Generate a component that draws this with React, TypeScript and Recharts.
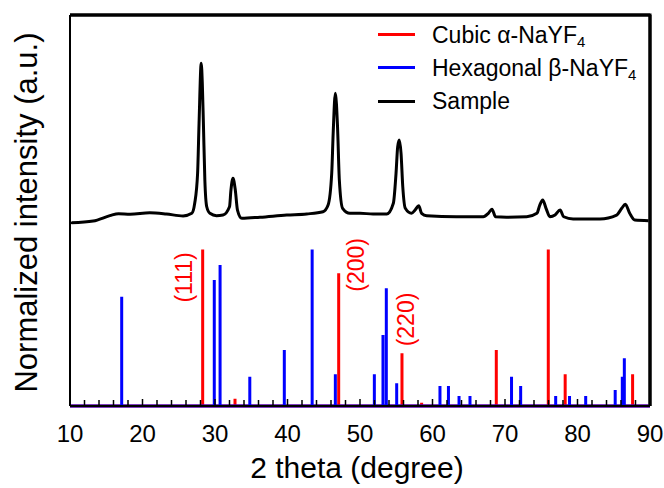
import { ComposedChart, Line, XAxis, YAxis, ReferenceDot } from "recharts";

const FONT = '"Liberation Sans", Arial, sans-serif';

// axis limits
const xDomain = [10, 90];
const yDomain = [0, 250];

// reference patterns (2 theta, relative intensity)
const cubicPos = [28.3, 32.76, 47.06, 55.79, 58.5, 68.8, 75.97, 78.3, 87.6];
const cubicInt = [100, 4.7, 84.9, 33.7, 2.1, 35.8, 100, 20.3, 20.3];

const hexPos = [
  17.13, 29.9, 30.7, 34.8, 39.56, 43.4, 46.6, 51.98, 53.17, 53.63, 55.06, 61.03,
  62.2, 63.66, 65.17, 70.9, 72.16, 76.99, 78.9, 81.13, 85.2, 86.18, 86.46,
];
const hexInt = [
  69.9, 80.6, 90.2, 18.7, 35.8, 100, 20.3, 20.3, 45.4, 75.3, 14.5, 12.8, 12.8,
  6.4, 6.4, 18.7, 12.8, 6.4, 6.4, 6.4, 10.2, 18.7, 30.5,
];

// measured sample pattern (offset above the references)
const sampleX = [
  10.2, 13.2, 15.5, 16.7, 18.3, 21.0, 23.3, 25.6, 26.8, 27.2, 27.6, 27.8, 28.1,
  28.25, 28.4, 28.6, 28.86, 29.3, 30.2, 31.1, 32.0, 32.2, 32.48, 32.8, 33.1,
  33.7, 36.2, 39.9, 42.65, 44.9, 45.6, 46.1, 46.3, 46.6, 46.9, 47.15, 47.6,
  48.6, 50.0, 51.8, 53.7, 54.6, 54.97, 55.2, 55.42, 55.66, 55.9, 56.25, 57.1,
  57.6, 58.1, 58.5, 59.2, 63.3, 67.0, 67.7, 68.2, 68.7, 70.2, 73.0, 74.4, 74.8,
  75.2, 75.66, 76.2, 76.9, 77.6, 78.1, 79.4, 83.1, 85.4, 86.1, 86.6, 87.2, 87.9,
  89.8,
];
const sampleY = [
  117.2, 118.3, 121.7, 123.0, 122.6, 123.6, 122.8, 121.5, 123.2, 129.6, 148.8,
  180.8, 219.1, 206.3, 180.8, 144.5, 127.4, 123.2, 121.7, 122.1, 127.4, 138.1,
  145.6, 138.1, 125.3, 120.0, 120.7, 122.1, 122.8, 124.2, 128.5, 148.8, 174.4,
  199.9, 178.6, 144.5, 126.4, 123.2, 123.2, 122.8, 122.8, 129.6, 148.8, 165.8,
  170.1, 161.6, 140.2, 126.4, 123.2, 125.3, 128.1, 123.2, 121.7, 121.0, 121.0,
  123.2, 125.8, 121.0, 120.7, 121.0, 123.2, 128.5, 131.7, 126.4, 121.0, 122.1,
  125.3, 121.0, 119.6, 119.6, 122.1, 126.4, 129.0, 123.2, 118.9, 118.5,
];

const xMinorTicks = [
  10, 12, 14, 16, 18, 20, 22, 24, 26, 28, 30, 32, 34, 36, 38, 40, 42, 44, 46,
  48, 50, 52, 54, 56, 58, 60, 62, 64, 66, 68, 70, 72, 74, 76, 78, 80, 82, 84,
  86, 88, 90,
];
const xLabelTicks = [10, 20, 30, 40, 50, 60, 70, 80, 90];

const planeLabels = ["(111)", "(200)", "(220)"];
const planeX = [25.72, 49.45, 56.34];
const planeY = [82.2, 90.2, 55.3];

const legendNames = ["Cubic α-NaYF", "Hexagonal β-NaYF", "Sample"];
const legendSubs = ["4", "4", ""];
const legendColors = ["#ff0000", "#0000ff", "#000000"];

// sticks as a baseline line going up and down at each position
function sticks(pos: number[], inten: number[]) {
  const pts = [{ x: xDomain[0], y: 0 }];
  pos.forEach((p, i) => {
    pts.push({ x: p, y: 0 }, { x: p, y: inten[i] }, { x: p, y: 0 });
  });
  pts.push({ x: xDomain[1], y: 0 });
  return pts;
}

const cubicData = sticks(cubicPos, cubicInt);
const hexData = sticks(hexPos, hexInt);
const sampleData = sampleX.map((x, i) => ({ x, y: sampleY[i] }));
// top and right edges of the box
const frameData = [
  { x: xDomain[0], y: yDomain[1] },
  { x: xDomain[1], y: yDomain[1] },
  { x: xDomain[1], y: yDomain[0] },
];

const XTick = (props: any) => {
  const { x, y, payload } = props;
  const v = payload.value;
  const major = xLabelTicks.includes(v);
  return (
    <g>
      <line x1={x} x2={x} y1={y} y2={y - (major ? 7 : 6)} stroke="#000" strokeWidth={1.5} />
      {major && (
        <text x={x} y={y + 36} textAnchor="middle" fontSize={24} fontFamily={FONT} fill="#000">
          {v}
        </text>
      )}
    </g>
  );
};

const YTick = (props: any) => {
  const { x, y } = props;
  return <line x1={x} x2={x + 6} y1={y} y2={y} stroke="#000" strokeWidth={2} />;
};

const PlaneLabel = (text: string) => (props: any) => {
  const { cx, cy } = props;
  return (
    <text
      x={cx}
      y={cy}
      transform={`rotate(-90 ${cx} ${cy})`}
      textAnchor="middle"
      dominantBaseline="central"
      fontSize={23}
      fontFamily={FONT}
      fill="#ff0000"
    >
      {text}
    </text>
  );
};

const LegendBox = () => (
  <div style={{ position: "absolute", left: 378, top: 18, fontFamily: FONT, fontSize: 23, color: "#000" }}>
    {legendNames.map((name, i) => (
      <div key={name} style={{ display: "flex", alignItems: "center", height: 33.3 }}>
        <div style={{ width: 37, height: 3, background: legendColors[i], marginRight: 17 }} />
        <span style={{ lineHeight: "26px", whiteSpace: "nowrap" }}>
          {name}
          {legendSubs[i] && (
            <sub style={{ fontSize: "0.65em", verticalAlign: "-0.3em", lineHeight: 0 }}>
              {legendSubs[i]}
            </sub>
          )}
        </span>
      </div>
    ))}
  </div>
);

export default function App() {
  return (
    <div style={{ position: "absolute", left: 0, top: 0, width: 664, height: 488, background: "#fff" }}>
      <ComposedChart width={664} height={488} margin={{ top: 14, right: 13, bottom: 0, left: 0 }}>
        <XAxis
          dataKey="x"
          type="number"
          domain={xDomain}
          ticks={xMinorTicks}
          interval={0}
          height={82}
          tickSize={0}
          tickMargin={0}
          tickLine={false}
          axisLine={{ stroke: "#000", strokeWidth: 2 }}
          tick={<XTick />}
          label={(p: any) => {
            const vb = p.viewBox || { x: 70, y: 406, width: 580 };
            return (
              <text x={vb.x + vb.width / 2 - 3} y={vb.y + 72} textAnchor="middle" fontSize={30} fontFamily={FONT} fill="#000">
                2 theta (degree)
              </text>
            );
          }}
        />
        <XAxis
          xAxisId="top"
          orientation="top"
          type="number"
          domain={xDomain}
          height={1}
          tick={false}
          tickLine={false}
          axisLine={{ stroke: "#000", strokeWidth: 3 }}
        />
        <YAxis
          type="number"
          domain={yDomain}
          ticks={[117]}
          width={70}
          tickSize={0}
          tickMargin={0}
          tickLine={false}
          axisLine={{ stroke: "#000", strokeWidth: 2 }}
          tick={<YTick />}
          label={(p: any) => {
            const vb = p.viewBox || { x: 0, y: 15, width: 70, height: 391 };
            const cx = vb.x + 37;
            const cy = vb.y + vb.height / 2 + 2;
            return (
              <text x={cx} y={cy} transform={`rotate(-90 ${cx} ${cy})`} textAnchor="middle" fontSize={31} fontFamily={FONT} fill="#000">
                Normalized intensity (a.u.)
              </text>
            );
          }}
        />
        <YAxis
          yAxisId="right"
          orientation="right"
          type="number"
          domain={yDomain}
          width={1}
          tick={false}
          tickLine={false}
          axisLine={{ stroke: "#000", strokeWidth: 3 }}
        />
        <Line data={frameData} dataKey="y" type="linear" stroke="#000" strokeWidth={3} dot={false} activeDot={false} isAnimationActive={false} />
        <Line data={cubicData} dataKey="y" type="linear" stroke="#ff0000" strokeWidth={3} dot={false} activeDot={false} isAnimationActive={false} />
        <Line data={hexData} dataKey="y" type="linear" stroke="#0000ff" strokeWidth={3} dot={false} activeDot={false} isAnimationActive={false} />
        <Line data={sampleData} dataKey="y" type="monotone" stroke="#000" strokeWidth={3} dot={false} activeDot={false} isAnimationActive={false} />
        {planeLabels.map((t, i) => (
          <ReferenceDot key={t} x={planeX[i]} y={planeY[i]} r={0} shape={PlaneLabel(t)} />
        ))}
      </ComposedChart>
      <LegendBox />
    </div>
  );
}
